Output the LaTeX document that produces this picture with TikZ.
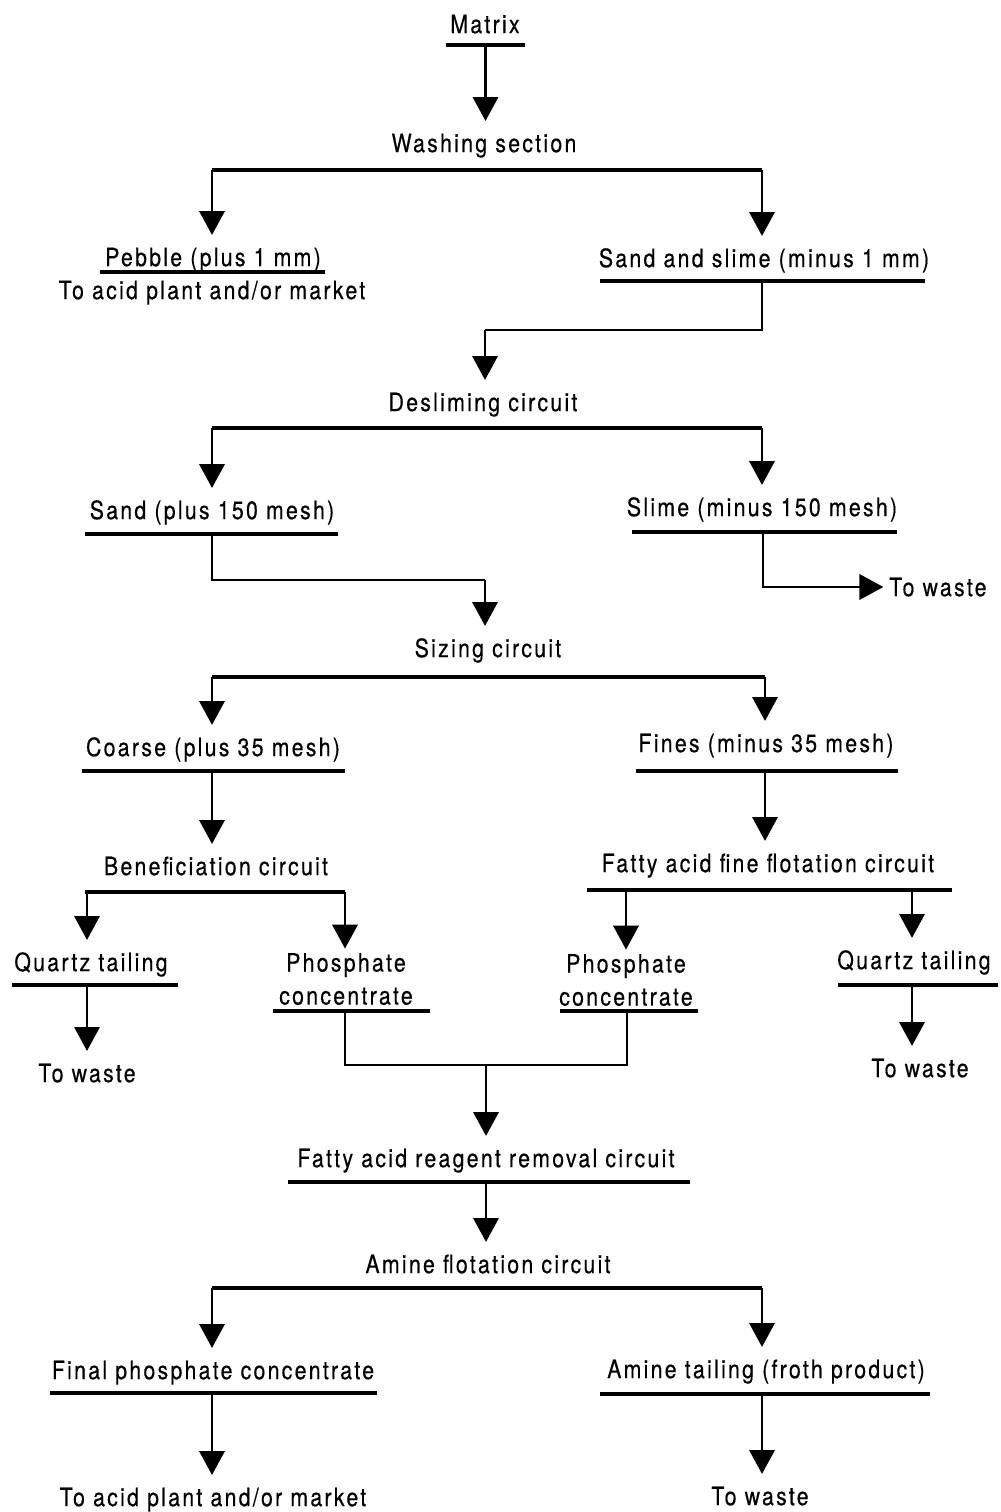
\documentclass[tikz,border=0pt]{standalone}
\usepackage{fontspec}
\setmainfont{TeX Gyre Heros}[FakeStretch=0.84,LetterSpace=9,FakeBold=0.4]
\usetikzlibrary{arrows.meta}
\def\pxu{0.025cm}
\begin{document}
\begin{tikzpicture}[x=0.025cm,y=-0.025cm,
  lbl/.style={inner xsep=0pt, inner ysep=9pt, yshift=-2pt, text height=13pt, text depth=4pt, font=\fontsize{18}{21}\selectfont},
  plbl/.style={inner xsep=0pt, inner ysep=3pt, align=center, font=\fontsize{18}{23.5}\selectfont},
  bar/.style={fill=black, inner sep=0pt, minimum height=2.6pt},
  conn/.style={line width=1.7pt},
  branch/.style={line width=2.2pt},
  arr/.style={conn, -{Triangle[length=17pt,width=18pt]}}]
\useasboundingbox (0,0) rectangle (1000,1512);

% ---- text nodes
\node[lbl] (matrix) at (485,24) {Matrix};
\node[lbl] (wash) at (484,143) {Washing section};
\node[lbl] (pebble) at (213,257) {Pebble (plus 1 mm)};
\node[lbl] (toacid1) at (212,290) {To acid plant and/or market};
\node[lbl] (sands) at (764,258) {Sand and slime (minus 1 mm)};
\node[lbl] (deslime) at (483,402) {Desliming circuit};
\node[lbl] (sand) at (212,510) {Sand (plus 150 mesh)};
\node[lbl] (slime) at (762,507) {Slime (minus 150 mesh)};
\node[lbl, anchor=west] (waste1) at (889,587) {To waste};
\node[lbl] (sizing) at (488,648) {Sizing circuit};
\node[lbl] (coarse) at (213,747) {Coarse (plus 35 mesh)};
\node[lbl] (fines) at (766,743) {Fines (minus 35 mesh)};
\node[lbl] (benef) at (216,866) {Beneficiation circuit};
\node[lbl] (fattyfine) at (768,863) {Fatty acid fine flotation circuit};
\node[lbl] (qt1) at (91,962) {Quartz tailing};
\node[plbl] (phos1) at (346,979) {Phosphate\\concentrate};
\node[plbl] (phos2) at (626,980) {Phosphate\\concentrate};
\node[lbl] (qt2) at (914,960) {Quartz tailing};
\node[lbl] (waste2) at (87,1073) {To waste};
\node[lbl] (waste3) at (920,1068) {To waste};
\node[lbl] (reagent) at (486,1158) {Fatty acid reagent removal circuit};
\node[lbl] (amine) at (488,1264) {Amine flotation circuit};
\node[lbl] (final) at (213,1370) {Final phosphate concentrate};
\node[lbl] (aminetail) at (766,1369) {Amine tailing (froth product)};
\node[lbl] (toacid2) at (213,1497) {To acid plant and/or market};
\node[lbl] (waste4) at (760,1496) {To waste};

% ---- underline bars
\node[bar, minimum width=79*\pxu] (mbar) at (485.5,45) {};
\node[bar, minimum width=225*\pxu] (pbar) at (212.5,272) {};
\node[bar, minimum width=325*\pxu] (ssbar) at (762.5,281) {};
\node[bar, minimum width=253*\pxu] (sandbar) at (211.5,534) {};
\node[bar, minimum width=265*\pxu] (slimebar) at (764.5,532) {};
\node[bar, minimum width=263*\pxu] (coarsebar) at (213.5,771) {};
\node[bar, minimum width=262*\pxu] (finesbar) at (767,771) {};
\node[bar, minimum width=260*\pxu] (benefbar) at (215,892) {};
\node[bar, minimum width=365*\pxu] (ffbar) at (769.5,890) {};
\node[bar, minimum width=166*\pxu] (qt1bar) at (95,985) {};
\node[bar, minimum width=157*\pxu] (p1bar) at (351.5,1011) {};
\node[bar, minimum width=138*\pxu] (p2bar) at (629,1011) {};
\node[bar, minimum width=160*\pxu] (qt2bar) at (918,985) {};
\node[bar, minimum width=402*\pxu] (rbar) at (489,1182) {};
\node[bar, minimum width=327*\pxu] (fbar) at (213.5,1393) {};
\node[bar, minimum width=330*\pxu] (atbar) at (765,1394) {};

% ---- branch points
\coordinate (b1l) at (212,170);
\coordinate (b1r) at (762,170);
\coordinate (j1) at (762,330);
\coordinate (j1l) at (485,330);
\coordinate (b2l) at (212,428);
\coordinate (b2r) at (762,428);
\coordinate (j2) at (212,580);
\coordinate (j2r) at (485,580);
\coordinate (j3) at (763,587);
\coordinate (b3l) at (212,677);
\coordinate (b3r) at (765,677);
\coordinate (bf1) at (87,892);
\coordinate (bf2) at (345,892);
\coordinate (ff1) at (626,890);
\coordinate (ff2) at (912,890);
\coordinate (m1) at (345,1065);
\coordinate (m2) at (627,1065);
\coordinate (m0) at (486,1065);
\coordinate (b4l) at (212,1288);
\coordinate (b4r) at (762,1288);

% ---- connectors
\draw[arr] (mbar.center) -- (mbar.center |- wash.north);
\draw[branch] (b1l) -- (b1r);
\draw[arr] (b1l) -- (b1l |- pebble.north);
\draw[arr] (b1r) -- (b1r |- sands.north);
\draw[conn] (ssbar.center -| j1) -- (j1) -- (j1l);
\draw[arr] (j1l) -- (j1l |- deslime.north);
\draw[branch] (b2l) -- (b2r);
\draw[arr] (b2l) -- (b2l |- sand.north);
\draw[arr] (b2r) -- (b2r |- slime.north);
\draw[conn] (sandbar.center -| j2) -- (j2) -- (j2r);
\draw[arr] (j2r) -- (j2r |- sizing.north);
\draw[arr] (slimebar.center -| j3) -- (j3) -- ([xshift=-4pt]waste1.west |- j3);
\draw[branch] (b3l) -- (b3r);
\draw[arr] (b3l) -- (b3l |- coarse.north);
\draw[arr] (b3r) -- (b3r |- fines.north);
\draw[arr] (coarsebar.center -| b3l) -- (b3l |- benef.north);
\draw[arr] (finesbar.center -| b3r) -- (b3r |- fattyfine.north);
\draw[arr] (bf1) -- (bf1 |- qt1.north);
\draw[arr] (bf2) -- (bf2 |- phos1.north);
\draw[arr] (ff1) -- (ff1 |- phos2.north);
\draw[arr] (ff2) -- (ff2 |- qt2.north);
\draw[arr] (qt1bar.center -| bf1) -- (bf1 |- waste2.north);
\draw[arr] (qt2bar.center -| ff2) -- (ff2 |- waste3.north);
\draw[conn] (p1bar.center -| m1) -- (m1) -- (m2) -- (p2bar.center -| m2);
\draw[arr] (m0) -- (m0 |- reagent.north);
\draw[arr] (rbar.center -| m0) -- (m0 |- amine.north);
\draw[branch] (b4l) -- (b4r);
\draw[arr] (b4l) -- (b4l |- final.north);
\draw[arr] (b4r) -- (b4r |- aminetail.north);
\draw[arr] (fbar.center -| b4l) -- (b4l |- toacid2.north);
\draw[arr] (atbar.center -| b4r) -- (b4r |- waste4.north);
\end{tikzpicture}
\end{document}
